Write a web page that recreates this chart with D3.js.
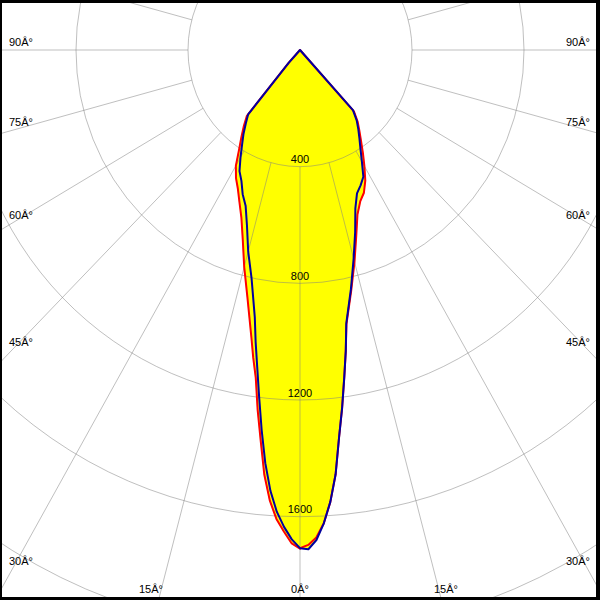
<!DOCTYPE html>
<html><head><meta charset="utf-8">
<script src="https://cdn.jsdelivr.net/npm/d3@7"></script>
<style>body{margin:0;background:#fff}svg{display:block}</style>
</head><body><svg id="c" width="600" height="600"></svg>
<script>
// ---- data ----
const gammaDeg  = [0,1,2,3,4,5,6,7,8,9,10,12.5,15,17.5,20,22.5,25,27.5,30,32.5,35,37.5,40,42.5,45,60,90,120,150,180];
const redLeft   = [1710,1692,1652,1610,1548,1462,1345,1242,1135,1068,1000,868,770,680,612,565,525,495,458,405,365,330,295,60,0,0,0,0,0,0];
const redRight  = [1708,1697,1672,1625,1553,1460,1335,1235,1135,1045,955,845,752,668,600,562,540,505,460,418,380,348,320,285,0,0,0,0,0,0];
const blueLeft  = [1708,1678,1636,1585,1515,1422,1310,1198,1098,1013,930,800,715,630,568,535,495,468,425,385,352,318,288,60,0,0,0,0,0,0];
const blueRight = [1708,1712,1681,1625,1553,1460,1335,1235,1135,1045,952,840,740,655,578,532,512,490,442,402,370,342,315,280,0,0,0,0,0,0];
const ringValues = [400,800,1200,1600,2000];
const ringLabels = ["400","800","1200","1600"];
const spokeAngles = d3.range(0,360,15);
const angleLabels = ["90Â°","75Â°","60Â°","45Â°","30Â°","15Â°","0Â°","15Â°","30Â°","45Â°","60Â°","75Â°","90Â°"];

// ---- layout ----
const W=600,H=600,cx=300,cy=50;
const sx=d3.scaleLinear().domain([0,400]).range([0,112]);
const sy=d3.scaleLinear().domain([0,400]).range([0,116.67]);
const rad=d=>d*Math.PI/180;
const pt=(g,I,side)=>[cx+side*sx(I)*Math.sin(rad(g)), cy+sy(I)*Math.cos(rad(g))];

const svg=d3.select("#c");
svg.append("rect").attr("width",W).attr("height",H).attr("fill","#fff");

function curvePts(left,right){
  const pts=[];
  for(let i=gammaDeg.length-1;i>=0;i--) pts.push(pt(gammaDeg[i],left[i],-1));
  for(let i=0;i<gammaDeg.length;i++) pts.push(pt(gammaDeg[i],right[i],1));
  return pts;
}
const red=curvePts(redLeft,redRight), blue=curvePts(blueLeft,blueRight);
const line=d3.line().curve(d3.curveLinearClosed);

// fill (union)
svg.append("path").attr("d",line(red)).attr("fill","#ffff00").attr("stroke","#ffff00").attr("stroke-width",1);
svg.append("path").attr("d",line(blue)).attr("fill","#ffff00").attr("stroke","#ffff00").attr("stroke-width",1);

const font='"Liberation Sans", Arial, sans-serif';
// ring labels
svg.append("g").selectAll("text").data(ringLabels).join("text")
  .attr("x",cx).attr("y",(d,i)=>cy+sy(ringValues[i])-3.5)
  .attr("text-anchor","middle").attr("font-family",font).attr("font-size",11).attr("fill","#000")
  .text(d=>d);

// grid
const grid=svg.append("g").attr("stroke","#808080").attr("stroke-opacity",0.5).attr("fill","none").attr("stroke-width",1);
grid.selectAll("ellipse").data(ringValues).join("ellipse")
  .attr("cx",cx).attr("cy",cy).attr("rx",d=>sx(d)).attr("ry",d=>sy(d));
grid.selectAll("line").data(spokeAngles).join("line")
  .attr("x1",a=>pt(a,ringValues[0],1)[0]).attr("y1",a=>pt(a,ringValues[0],1)[1])
  .attr("x2",a=>pt(a,3000,1)[0]).attr("y2",a=>pt(a,3000,1)[1]);

// curves
svg.append("path").attr("d",line(red)).attr("fill","none").attr("stroke","#ff0000").attr("stroke-width",2).attr("stroke-linejoin","round");
svg.append("path").attr("d",line(blue)).attr("fill","none").attr("stroke","#0000a0").attr("stroke-width",2).attr("stroke-linejoin","round");

// angle labels (placement along the frame)
const labelPos=[[9,46,"start"],[9,126,"start"],[9,219,"start"],[9,346,"start"],[9,565,"start"],[139,593,"start"],[300,593,"middle"],
                [434,593,"start"],[566,565,"start"],[566,346,"start"],[566,219,"start"],[566,126,"start"],[566,46,"start"]];
svg.append("g").selectAll("text").data(angleLabels).join("text")
  .attr("x",(d,i)=>labelPos[i][0]).attr("y",(d,i)=>labelPos[i][1]).attr("text-anchor",(d,i)=>labelPos[i][2])
  .attr("font-family",font).attr("font-size",11).attr("fill","#000").text(d=>d);

// frame
const fr=svg.append("g").attr("fill","#000");
fr.append("rect").attr("x",0).attr("y",0).attr("width",W).attr("height",3);
fr.append("rect").attr("x",0).attr("y",0).attr("width",2).attr("height",H);
fr.append("rect").attr("x",W-4).attr("y",0).attr("width",4).attr("height",H);
fr.append("rect").attr("x",0).attr("y",H-3).attr("width",W).attr("height",3);
</script></body></html>
